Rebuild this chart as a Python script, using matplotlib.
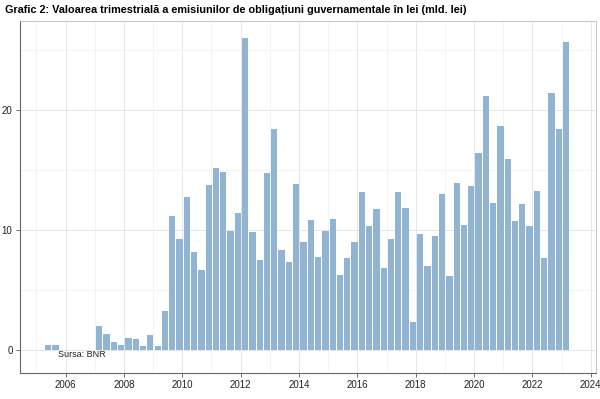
import matplotlib
matplotlib.use("Agg")
from matplotlib import pyplot as plt
from matplotlib.ticker import MultipleLocator

plt.rcParams['font.family'] = ['Liberation Sans', 'DejaVu Sans']

# quarterly issuance, bln lei
early_years = [2005, 2005]
early_quarters = [2, 3]
early_values = [0.4, 0.4]

start_year = 2007
values = [2.0, 1.3, 0.6, 0.4, 1.0, 0.9, 0.3, 1.2, 0.3, 3.2,
          11.1, 9.2, 12.7, 8.1, 6.6, 13.7, 15.1, 14.8, 9.9, 11.4,
          26.0, 9.8, 7.5, 14.7, 18.4, 8.3, 7.3, 13.8, 9.0, 10.8,
          7.7, 9.9, 10.9, 6.2, 7.6, 9.0, 13.1, 10.3, 11.7, 6.8,
          9.2, 13.1, 11.8, 2.3, 9.6, 7.0, 9.5, 13.0, 6.1, 13.9,
          10.4, 13.6, 16.4, 21.1, 12.2, 18.6, 15.9, 10.7, 12.1, 10.3,
          13.2, 7.6, 21.4, 18.4, 25.6]

years = early_years + [start_year + i // 4 for i in range(len(values))]
quarters = early_quarters + [i % 4 + 1 for i in range(len(values))]
all_values = early_values + values
xpos = [y + (q - 1) / 4 + 0.155 for y, q in zip(years, quarters)]

fig = plt.figure(figsize=(6, 3.99), dpi=100)
ax = fig.add_axes([0.0325, 0.066, 0.9603, 0.881])

ax.bar(xpos, all_values, width=0.215, color='#90B4D2', zorder=2)

ax.set_xlim(2004.42, 2024.17)
ax.set_ylim(-1.93, 27.37)
ax.xaxis.set_major_locator(MultipleLocator(2))
ax.xaxis.set_minor_locator(MultipleLocator(1))
ax.yaxis.set_major_locator(MultipleLocator(10))
ax.yaxis.set_minor_locator(MultipleLocator(5))
ax.grid(which='major', color='#e6e6e6', linewidth=0.7, zorder=0)
ax.grid(which='minor', color='#f0f0f0', linewidth=0.5, zorder=0)
ax.set_axisbelow(True)
ax.tick_params(which='major', length=3, width=0.6, color='#555555',
               labelsize=7, labelcolor='#222222', pad=2)
ax.tick_params(which='minor', length=0)

for side in ['top', 'right']:
    ax.spines[side].set_color('#bbbbbb')
    ax.spines[side].set_linewidth(0.6)
for side in ['left', 'bottom']:
    ax.spines[side].set_color('#666666')
    ax.spines[side].set_linewidth(0.8)

ax.text(2005.75, -0.4, 'Sursa: BNR', fontsize=6.5, ha='left', va='center', color='#222222')

fig.text(0.009, 0.975, 'Grafic 2: Valoarea trimestrială a emisiunilor de obligațiuni guvernamentale în lei (mld. lei)',
         fontsize=7.8, fontweight='bold', ha='left', va='center')

fig.savefig('out.png', dpi=100)
